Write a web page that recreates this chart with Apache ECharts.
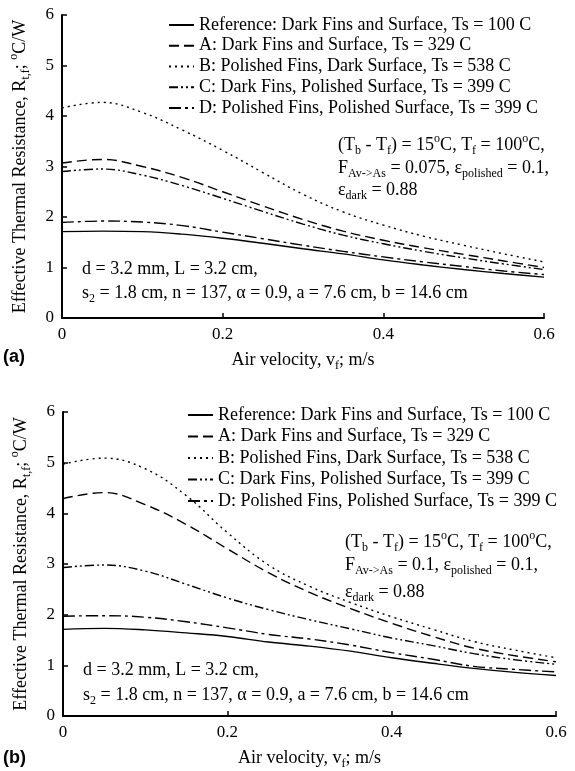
<!DOCTYPE html>
<html>
<head>
<meta charset="utf-8">
<script src="https://cdn.jsdelivr.net/npm/echarts@6/dist/echarts.min.js"></script>
<style>
  html, body { margin: 0; padding: 0; background: #fff; }
  #chart { width: 575px; height: 771px; }
</style>
</head>
<body>
<div id="chart"></div>
<script>
// air velocity v_f (m/s)
const velocity = [0, 0.05, 0.1, 0.15, 0.2, 0.25, 0.3, 0.35, 0.4, 0.45, 0.5, 0.55, 0.6];

const seriesNames = [
  'Reference: Dark Fins and Surface, Ts = 100 C',
  'A: Dark Fins and Surface, Ts = 329 C',
  'B: Polished Fins, Dark Surface, Ts = 538 C',
  'C: Dark Fins, Polished Surface, Ts = 399 C',
  'D: Polished Fins, Polished Surface, Ts = 399 C'
];

// panel (a), F = 0.075
const refA = [1.71, 1.72, 1.71, 1.66, 1.58, 1.48, 1.37, 1.27, 1.15, 1.05, 0.96, 0.88, 0.81];
const caseA_a = [3.07, 3.14, 3.00, 2.78, 2.50, 2.22, 1.95, 1.72, 1.54, 1.39, 1.26, 1.13, 1.00];
const caseB_a = [4.16, 4.27, 4.07, 3.72, 3.32, 2.88, 2.45, 2.10, 1.84, 1.62, 1.44, 1.27, 1.11];
const caseC_a = [2.90, 2.95, 2.83, 2.62, 2.37, 2.11, 1.86, 1.64, 1.47, 1.32, 1.19, 1.07, 0.96];
const caseD_a = [1.89, 1.92, 1.90, 1.83, 1.70, 1.57, 1.44, 1.32, 1.21, 1.11, 1.02, 0.93, 0.86];

// panel (b), F = 0.1
const refB = [1.71, 1.73, 1.70, 1.64, 1.57, 1.46, 1.38, 1.28, 1.15, 1.04, 0.94, 0.86, 0.80];
const caseA_b = [4.29, 4.41, 4.17, 3.78, 3.30, 2.83, 2.44, 2.12, 1.83, 1.57, 1.34, 1.19, 1.07];
const caseB_b = [4.97, 5.09, 4.88, 4.35, 3.62, 2.98, 2.56, 2.24, 1.96, 1.71, 1.47, 1.30, 1.15];
const caseC_b = [2.93, 2.98, 2.86, 2.60, 2.33, 2.10, 1.90, 1.72, 1.54, 1.39, 1.23, 1.11, 1.02];
const caseD_b = [1.97, 1.98, 1.95, 1.86, 1.74, 1.61, 1.52, 1.40, 1.25, 1.12, 0.98, 0.92, 0.87];

const xTicks = [0, 0.2, 0.4, 0.6];
const yTicks = [0, 1, 2, 3, 4, 5, 6];

const serif = "'Liberation Serif', 'Times New Roman', serif";
const dashes = ['solid', [10, 5], [2, 4], [9, 3, 2, 3, 2, 3], [12, 4, 3, 4]];

const richSub = {
  sub: { fontSize: 12, fontFamily: serif, verticalAlign: 'bottom', lineHeight: 12, color: '#000' },
  sup: { fontSize: 12, fontFamily: serif, verticalAlign: 'top', lineHeight: 12, color: '#000' }
};

const pairs = (ys) => velocity.map((v, i) => [v, ys[i]]);

function makeSeries(panel, lists) {
  return lists.map((ys, i) => ({
    name: seriesNames[i],
    type: 'line',
    xAxisIndex: panel,
    yAxisIndex: panel,
    data: pairs(ys),
    smooth: 0.4,
    symbol: 'none',
    clip: false,
    itemStyle: { color: '#000' },
    lineStyle: { color: '#000', width: 1.4, type: dashes[i] }
  }));
}

function xAxis(panel) {
  return {
    type: 'value', gridIndex: panel, min: 0, max: 0.6, interval: 0.2,
    name: 'Air velocity, v{sub|f}; m/s',
    nameLocation: 'middle', nameGap: 30,
    nameTextStyle: { fontFamily: serif, fontSize: 18, color: '#000', lineHeight: 24, rich: richSub },
    axisLine: { lineStyle: { color: '#000', width: 2 } },
    axisTick: { inside: true, length: 5, lineStyle: { color: '#000', width: 1.5 } },
    axisLabel: {
      fontFamily: serif, fontSize: 17, color: '#000', margin: 8,
      formatter: (v) => (xTicks.includes(+v.toFixed(1)) ? String(+v.toFixed(1)) : '')
    },
    splitLine: { show: false }
  };
}

function yAxis(panel) {
  return {
    type: 'value', gridIndex: panel, min: 0, max: 6, interval: 1,
    name: 'Effective Thermal Resistance, R{sub|t,f}; {sup|o}C/W',
    nameLocation: 'middle', nameRotate: 90, nameGap: 30,
    nameTextStyle: { fontFamily: serif, fontSize: 18, color: '#000', lineHeight: 24, rich: richSub },
    axisLine: { lineStyle: { color: '#000', width: 2 } },
    axisTick: { inside: true, length: 5, lineStyle: { color: '#000', width: 1.5 } },
    axisLabel: {
      fontFamily: serif, fontSize: 17, color: '#000', margin: 8,
      formatter: (v) => (yTicks.includes(v) ? String(v) : '')
    },
    splitLine: { show: false }
  };
}

function legend(left, top, gap) {
  return {
    orient: 'vertical', left: left, top: top,
    padding: 0,
    itemWidth: 25, itemHeight: 12, itemGap: gap,
    data: seriesNames,
    selectedMode: false,
    itemStyle: { opacity: 0 },
    textStyle: { fontFamily: serif, fontSize: 18, color: '#000', lineHeight: 18 }
  };
}

function note(x, y, text) {
  return {
    type: 'text', x: x, y: y,
    style: {
      text: text, fontFamily: serif, fontSize: 18, fill: '#000',
      lineHeight: 24, verticalAlign: 'middle', rich: richSub
    }
  };
}

function panelLabel(y, text) {
  return {
    type: 'text', x: 3, y: y,
    style: { text: text, fontFamily: "'Liberation Sans', Arial, sans-serif", fontWeight: 'bold', fontSize: 18, fill: '#000', verticalAlign: 'middle' }
  };
}

const chart = echarts.init(document.getElementById('chart'), null, { renderer: 'canvas' });

chart.setOption({
  backgroundColor: '#fff',
  animation: false,
  grid: [
    { left: 62, top: 15, width: 482, height: 303 },
    { left: 63, top: 412, width: 493, height: 309 }
  ],
  xAxis: [xAxis(0), xAxis(1)],
  yAxis: [yAxis(0), yAxis(1)],
  legend: [legend(168, 16, 2.75), legend(187, 406, 3.5)],
  series: [
    ...makeSeries(0, [refA, caseA_a, caseB_a, caseC_a, caseD_a]),
    ...makeSeries(1, [refB, caseA_b, caseB_b, caseC_b, caseD_b])
  ],
  graphic: [
    note(338, 145, '(T{sub|b} - T{sub|f}) = 15{sup|o}C, T{sub|f} = 100{sup|o}C,'),
    note(338, 168, 'F{sub|Av->As} = 0.075, ε{sub|polished} = 0.1,'),
    note(338, 190, 'ε{sub|dark} = 0.88'),
    note(82, 269, 'd = 3.2 mm, L = 3.2 cm,'),
    note(82, 293, 's{sub|2} = 1.8 cm, n = 137, α = 0.9, a = 7.6 cm, b = 14.6 cm'),
    note(345, 542, '(T{sub|b} - T{sub|f}) = 15{sup|o}C, T{sub|f} = 100{sup|o}C,'),
    note(345, 565, 'F{sub|Av->As} = 0.1, ε{sub|polished} = 0.1,'),
    note(345, 592, 'ε{sub|dark} = 0.88'),
    note(83, 670, 'd = 3.2 mm, L = 3.2 cm,'),
    note(83, 695, 's{sub|2} = 1.8 cm, n = 137, α = 0.9, a = 7.6 cm, b = 14.6 cm'),
    panelLabel(357, '(a)'),
    panelLabel(758, '(b)')
  ]
});
</script>
</body>
</html>
